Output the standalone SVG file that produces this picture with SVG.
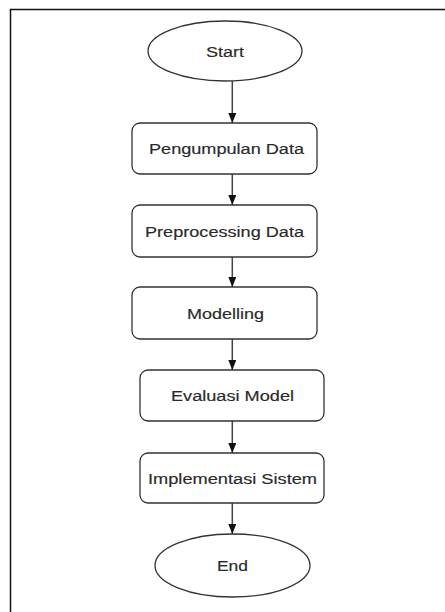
<svg xmlns="http://www.w3.org/2000/svg" width="445" height="612" viewBox="0 0 445 612">
<defs>
<style>
.n{fill:#fff;stroke:#333;stroke-width:1.3}
.t{font-family:"Liberation Sans",Arial,sans-serif;font-size:14px;fill:#2a2a2a;stroke:#2a2a2a;stroke-width:0.15;text-anchor:middle}
.c{stroke:#444;stroke-width:1.5;fill:none;marker-end:url(#ah)}
</style>
<marker id="ah" viewBox="0 0 10 8" refX="10" refY="4" markerWidth="10" markerHeight="8" markerUnits="userSpaceOnUse" orient="auto">
<path d="M0,0 L10,4 L0,8 Z" fill="#111"/>
</marker>
</defs>
<rect width="445" height="612" fill="#fff"/>
<path d="M10.5,612 V9.5 H445" fill="none" stroke="#111" stroke-width="1.5"/>
<g id="connectors">
<line class="c" x1="232.3" y1="81" x2="232.3" y2="123"/>
<line class="c" x1="232.3" y1="174" x2="232.3" y2="205"/>
<line class="c" x1="232.3" y1="257" x2="232.3" y2="287"/>
<line class="c" x1="232.3" y1="339" x2="232.3" y2="370"/>
<line class="c" x1="232.3" y1="421" x2="232.3" y2="453"/>
<line class="c" x1="232.3" y1="503" x2="232.3" y2="534"/>
</g>
<g id="start">
<ellipse class="n" cx="225" cy="51" rx="77" ry="30"/>
<text class="t" x="225" y="56.5" textLength="38" lengthAdjust="spacingAndGlyphs">Start</text>
</g>
<g id="pengumpulan">
<rect class="n" x="132" y="123" width="185" height="51" rx="8"/>
<text class="t" x="226.5" y="154" textLength="155" lengthAdjust="spacingAndGlyphs">Pengumpulan Data</text>
</g>
<g id="preprocessing">
<rect class="n" x="132" y="205" width="185" height="52" rx="8"/>
<text class="t" x="224.5" y="236.5" textLength="159" lengthAdjust="spacingAndGlyphs">Preprocessing Data</text>
</g>
<g id="modelling">
<rect class="n" x="132" y="287" width="185" height="52" rx="8"/>
<text class="t" x="225.5" y="318.5" textLength="77" lengthAdjust="spacingAndGlyphs">Modelling</text>
</g>
<g id="evaluasi">
<rect class="n" x="140" y="370" width="184" height="51" rx="8"/>
<text class="t" x="232.5" y="401" textLength="123" lengthAdjust="spacingAndGlyphs">Evaluasi Model</text>
</g>
<g id="implementasi">
<rect class="n" x="140" y="453" width="184" height="50" rx="8"/>
<text class="t" x="232.5" y="483.5" textLength="169" lengthAdjust="spacingAndGlyphs">Implementasi Sistem</text>
</g>
<g id="end">
<ellipse class="n" cx="232.5" cy="565.5" rx="77.5" ry="31.5"/>
<text class="t" x="232.5" y="571" textLength="31" lengthAdjust="spacingAndGlyphs">End</text>
</g>
</svg>
